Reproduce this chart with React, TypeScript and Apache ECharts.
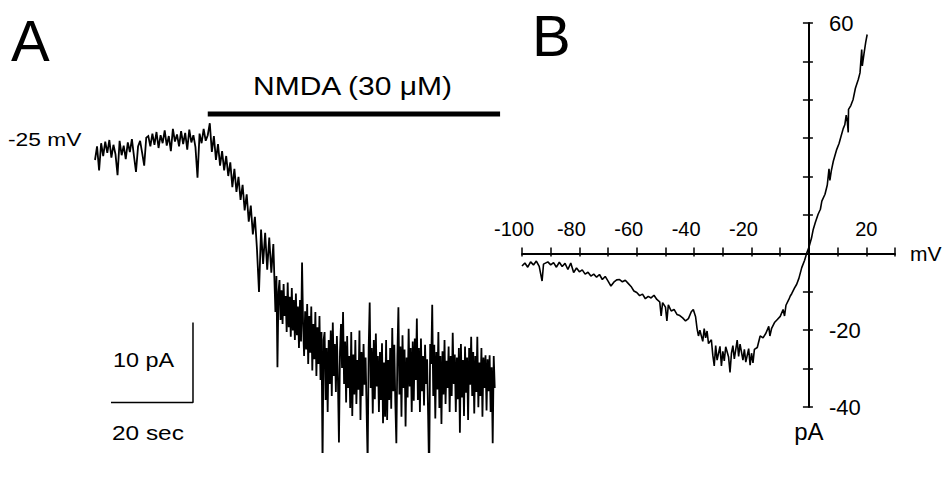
import React, { useEffect, useRef } from "react";
import * as echarts from "echarts";

const FONT = "'Liberation Sans', Arial, Helvetica, sans-serif";

// ---------- Panel A : current trace (pA) ----------
// baseline before NMDA, sampled every 0.5 s from t = 0 s
const tracePreStartSec = 0;
const tracePreStepSec = 0.5;
const tracePre1 = [-1.5, 0.2, -2.8, 0.6, -1.0, 0.8, -0.6, 1.0, -1.2, 0.4, -0.8, -3.4, 0.9, -0.9, 0.3, -1.4, 0.7, -0.5, 1.1, -1.0, -3.0, 0.2, 0.9, -0.6, -2.2, 1.3, 1.5];
const tracePre2 = [0.2, 1.8, 0.4, 2.0, 0.0, 1.6, 0.6, 2.2, 0.3, 1.5, -0.4, 2.4, 0.8, 1.7, 0.2, 2.1, 0.5, 1.9, -0.2, 2.3, 0.7, 1.6, 0.1, -3.7, 1.8, 0.6, 2.4, 0.9];
// onset of the NMDA current, every 0.5 s from t = 27.5 s
const traceOnsetStartSec = 27.5;
const traceOnsetStepSec = 0.5;
const traceOnset = [1.6, 3.1, -0.5, 1.5, -1.5, 0.5, -2.2, -0.4, -2.8, -1.0, -3.5, -1.8, -4.9, -2.6, -5.5, -3.6, -6.5, -4.6, -7.8, -5.8, -9.2, -7.2, -10.8, -8.6, -12.6, -18.0, -10.2, -14.5, -10.6, -15.2, -11.2, -15.6, -12.0];
// late rise, every 0.25 s from t = 44 s
const traceRiseStartSec = 44;
const traceRiseStepSec = 0.25;
const traceRise = [
  -20.5, -16.0, -27.4, -18.0, -16.5, -21.5, -17.8, -22.0, -17.0, -21.0, -18.5, -23.0, -16.8, -22.4, -18.6, -23.6,
  -17.5, -22.8, -19.0, -24.0, -18.2, -23.4, -19.8, -25.0, -19.0, -24.2, -14.3, -22.0, -26.0, -20.4, -25.2, -19.5,
  -27.0, -21.0, -25.6, -19.8, -27.8, -22.0, -26.4, -20.5, -28.5, -22.4, -27.0, -21.0, -29.0, -23.0, -39.6, -24.0,
];
// steady-state NMDA current, every 0.25 s from t = 56 s
const traceSteadyStartSec = 56;
const traceSteadyStepSec = 0.25;
const traceSteady = [
  -23.0, -31.5, -25.0, -33.0, -24.0, -29.5, -22.8, -31.0, -21.8, -28.5, -24.5, -30.5, -23.5, -29.0, -36.8, -25.5,
  -22.0, -27.5, -20.5, -29.5, -24.2, -31.8, -23.5, -30.0, -26.0, -32.5, -23.0, -33.5, -25.8, -30.8, -24.0, -32.0,
  -26.5, -30.2, -22.8, -34.0, -25.5, -31.0, -24.5, -29.6, -26.2, -32.8, -39.3, -25.0, -19.3, -30.0, -25.0, -33.2,
  -24.0, -31.4, -23.2, -29.8, -26.0, -33.0, -25.5, -31.5, -24.4, -34.4, -26.8, -33.6, -24.0, -34.0, -26.5, -31.5,
  -25.0, -32.6, -22.5, -30.4, -24.6, -31.8, -36.9, -26.0, -19.9, -30.8, -24.8, -33.6, -23.4, -30.0, -25.2, -34.8,
  -26.2, -31.2, -22.6, -29.8, -25.0, -33.0, -24.2, -31.6, -23.8, -29.0, -21.3, -31.5, -25.0, -33.0, -23.8, -30.4,
  -26.0, -32.2, -24.6, -29.5, -26.4, -33.4, -41.1, -24.5, -27.0, -19.6, -31.0, -24.6, -33.8, -25.5, -30.2, -23.0,
  -32.5, -26.0, -34.5, -25.4, -30.8, -24.0, -32.0, -26.6, -30.0, -24.8, -33.0, -26.0, -31.0, -23.1, -29.5, -25.8,
  -33.0, -26.2, -31.4, -25.0, -35.6, -24.5, -31.2, -26.5, -33.5, -24.8, -30.6, -26.2, -34.0, -25.0, -29.6, -23.6,
  -31.0, -25.5, -33.2, -26.0, -30.5, -23.6, -32.4, -26.8, -31.0, -25.0, -33.6, -26.2, -30.0, -25.9, -32.8, -26.4,
  -30.4, -25.9, -33.0, -27.4, -36.9, -26.0, -30.0,
];

// NMDA application bar (s) and its level (pA, above the trace)
const nmdaStartSec = 27.5;
const nmdaEndSec = 98.8;
const nmdaLevel = 4.25;
// scale bars: 20 sec, 10 pA
const scaleBarSec = [3.9, 23.9];
const scaleBarPA = [-31.8, -21.8];

// ---------- Panel B : I-V curve ----------
const ivVoltage = [-100, -99, -98, -97, -96, -95, -94, -93, -92.5, -91, -90, -89, -88, -87, -86, -85, -84, -83, -82, -81, -80, -79, -78, -77, -76, -75, -74, -73, -72, -71, -70, -69, -68, -67, -66, -65, -64, -63, -62, -61, -60, -59, -58, -57, -56, -55, -54, -53, -52, -51.5, -51, -50, -49.5, -49, -48, -47, -46, -45, -44, -43, -42, -41, -40.3, -39.5, -39, -38.5, -38, -37, -36.5, -36, -35.5, -35, -34, -33.5, -33, -32.5, -32, -31, -30.5, -30, -29.5, -29, -28, -27.5, -27, -26.5, -26, -25, -24.5, -24, -23, -22.5, -22, -21, -20.5, -20, -19.5, -19, -18, -17, -16, -15, -14, -13.6, -13, -12, -11, -10, -9, -8.5, -8, -7, -6.5, -6, -5, -4.3, -3.5, -2.5, -1.5, -0.8, 0, 0.9, 1.5, 2.2, 3.2, 4, 4.5, 5.6, 6.4, 7.0, 7.3, 7.8, 8.5, 9.7, 10.5, 11.2, 11.95, 12.5, 13.0, 13.4, 13.7, 13.8, 14.6, 15.4, 16.2, 17.2, 17.8, 18.4, 18.6, 19.2, 19.8, 20.3];
const ivCurrent = [-3.3, -2.5, -3.6, -2.2, -3.0, -2.0, -3.4, -7.2, -2.8, -2.2, -3.0, -2.4, -3.6, -2.3, -3.4, -2.6, -4.2, -2.5, -5.0, -3.8, -4.8, -4.3, -5.4, -4.9, -5.9, -5.4, -6.2, -5.5, -6.8, -6.0, -7.2, -8.5, -7.5, -6.9, -6.8, -7.4, -7.0, -7.8, -8.6, -9.8, -10.2, -11.0, -10.6, -11.8, -11.2, -11.6, -10.9, -12.0, -12.6, -16.3, -12.8, -14.0, -17.6, -13.4, -15.0, -14.6, -15.9, -16.2, -16.8, -17.6, -17.0, -15.2, -14.6, -16.5, -19.5, -21.5, -20.0, -22.9, -19.6, -22.0, -20.2, -23.5, -22.5, -26.5, -29.3, -24.0, -27.8, -24.2, -29.3, -25.5, -28.0, -24.3, -27.0, -31.0, -26.0, -24.0, -27.5, -22.6, -26.8, -23.6, -27.8, -25.0, -28.3, -24.8, -29.1, -26.0, -28.5, -25.0, -24.5, -21.5, -22.0, -20.8, -19.0, -21.5, -19.5, -18.0, -17.2, -16.4, -14.6, -16.3, -13.5, -12.0, -11.1, -10.5, -9.0, -8.1, -6.5, -3.7, -1.8, 0.0, 1.6, 4.0, 6.25, 8.0, 10.2, 11.5, 13.6, 15.4, 17.8, 22.0, 19.0, 21.5, 24.0, 27.1, 28.6, 30.5, 32.5, 33.5, 36.0, 34.2, 31.5, 37.5, 38.5, 40.1, 43.0, 45.3, 47.0, 53.1, 48.8, 52.0, 55.0, 57.0];

const ivVoltRange = [-100, 30];
const ivCurrRange = [-40, 60];
const xTickLabelsB = [-100, -80, -60, -40, -20, 20];
const yTickLabelsB = [60, -20, -40];

export default function App() {
  const ref = useRef<HTMLDivElement>(null);

  useEffect(() => {
    if (!ref.current) return;
    const chart = echarts.init(ref.current, undefined, { renderer: "svg" });

    const seg = (start: number, step: number, values: number[]) =>
      values.map((v, i) => [start + i * step, v]);
    const traceData = [
      ...seg(tracePreStartSec, tracePreStepSec, [...tracePre1, ...tracePre2]),
      ...seg(traceOnsetStartSec, traceOnsetStepSec, traceOnset),
      ...seg(traceRiseStartSec, traceRiseStepSec, traceRise),
      ...seg(traceSteadyStartSec, traceSteadyStepSec, traceSteady),
    ];
    const ivData = ivVoltage.map((v, i) => [v, ivCurrent[i]]);

    const black = "#000";
    const txt = (text: string, x: number, y: number, size: number, scaleX = 1) => ({
      type: "text",
      x,
      y,
      scaleX,
      silent: true,
      style: {
        text,
        fill: black,
        fontFamily: FONT,
        fontSize: size,
        align: "left",
        verticalAlign: "middle",
      },
    });

    // panel B geometry
    const bLeft = 522;
    const bTop = 23;
    const bWidth = 373;
    const bHeight = 384;
    const zeroX = bLeft + (bWidth * (0 - ivVoltRange[0])) / (ivVoltRange[1] - ivVoltRange[0]);
    const zeroYH = (bHeight * (ivCurrRange[1] - 0)) / (ivCurrRange[1] - ivCurrRange[0]);

    const hidden = (gridIndex: number, min: number, max: number) => ({
      gridIndex,
      type: "value",
      min,
      max,
      show: false,
    });

    const option: any = {
      animation: false,
      backgroundColor: "#fff",
      grid: [
        { left: 95, top: 100, width: 410, height: 352 },
        { left: bLeft, top: bTop, width: bWidth, height: bHeight },
        { left: bLeft, top: bTop, width: bWidth, height: zeroYH },
        { left: zeroX, top: bTop, width: bLeft + bWidth - zeroX, height: bHeight },
      ],
      xAxis: [
        hidden(0, 0, 100),
        hidden(1, ivVoltRange[0], ivVoltRange[1]),
        {
          gridIndex: 2,
          type: "value",
          min: ivVoltRange[0],
          max: ivVoltRange[1],
          interval: 10,
          position: "bottom",
          axisLine: { onZero: false, lineStyle: { color: black, width: 2 } },
          axisTick: { show: true, inside: true, length: 6, lineStyle: { color: black, width: 1.5 } },
          axisLabel: {
            inside: true,
            margin: 14,
            color: black,
            fontFamily: FONT,
            fontSize: 20,
            showMinLabel: true,
            showMaxLabel: true,
            formatter: (v: number) =>
              xTickLabelsB.includes(v) ? (v < 0 ? `{n|${v}}` : `{p|${v}}`) : "",
            rich: {
              n: { fontFamily: FONT, fontSize: 20, color: black, padding: [0, 16, 0, 0] },
              p: { fontFamily: FONT, fontSize: 20, color: black },
            },
          },
          splitLine: { show: false },
          name: "mV",
          nameLocation: "end",
          nameGap: 15,
          nameTextStyle: { fontFamily: FONT, fontSize: 21, color: black, padding: [0, 0, 10, 0] },
        },
        {
          gridIndex: 2,
          type: "value",
          min: ivVoltRange[0],
          max: ivVoltRange[1],
          interval: 10,
          position: "bottom",
          axisLine: { show: false, onZero: false },
          axisTick: { show: true, inside: false, length: 3, lineStyle: { color: black, width: 1.5 } },
          axisLabel: { show: false },
          splitLine: { show: false },
        },
        hidden(3, 0, 1),
      ],
      yAxis: [
        hidden(0, -38, 6),
        hidden(1, ivCurrRange[0], ivCurrRange[1]),
        hidden(2, 0, 1),
        {
          gridIndex: 3,
          type: "value",
          min: ivCurrRange[0],
          max: ivCurrRange[1],
          interval: 10,
          position: "left",
          axisLine: { onZero: false, lineStyle: { color: black, width: 2 } },
          axisTick: { show: true, inside: false, length: 6, lineStyle: { color: black, width: 1.5 } },
          axisLabel: {
            inside: true,
            margin: 20,
            color: black,
            fontFamily: FONT,
            fontSize: 22,
            showMinLabel: true,
            showMaxLabel: true,
            formatter: (v: number) => (yTickLabelsB.includes(v) ? String(v) : ""),
          },
          splitLine: { show: false },
          name: "pA",
          nameLocation: "start",
          nameGap: 12,
          nameTextStyle: { fontFamily: FONT, fontSize: 24, color: black },
        },
        {
          gridIndex: 3,
          type: "value",
          min: ivCurrRange[0],
          max: ivCurrRange[1],
          interval: 10,
          position: "left",
          axisLine: { show: false, onZero: false },
          axisTick: { show: true, inside: true, length: 4, lineStyle: { color: black, width: 1.5 } },
          axisLabel: { show: false },
          splitLine: { show: false },
        },
      ],
      series: [
        {
          type: "line",
          xAxisIndex: 0,
          yAxisIndex: 0,
          data: traceData,
          showSymbol: false,
          symbol: "none",
          lineStyle: { color: black, width: 1.8, join: "miter", miterLimit: 2 },
          silent: true,
        },
        {
          type: "line",
          xAxisIndex: 0,
          yAxisIndex: 0,
          data: [
            [nmdaStartSec, nmdaLevel],
            [nmdaEndSec, nmdaLevel],
          ],
          symbol: "none",
          lineStyle: { color: black, width: 5 },
          silent: true,
        },
        {
          type: "line",
          xAxisIndex: 0,
          yAxisIndex: 0,
          data: [
            [scaleBarSec[0], scaleBarPA[0]],
            [scaleBarSec[1], scaleBarPA[0]],
            [scaleBarSec[1], scaleBarPA[1]],
          ],
          symbol: "none",
          lineStyle: { color: black, width: 1.5 },
          silent: true,
        },
        {
          type: "line",
          xAxisIndex: 1,
          yAxisIndex: 1,
          data: ivData,
          symbol: "none",
          lineStyle: { color: black, width: 1.6 },
          silent: true,
        },
      ],
      graphic: [
        txt("A", 11, 40, 58),
        txt("B", 532, 35, 58),
        txt("NMDA (30 μM)", 253, 86, 25, 1.2),
        txt("-25 mV", 8, 139.5, 19, 1.2),
        txt("10 pA", 113, 360.5, 20, 1.17),
        txt("20 sec", 112, 433.5, 20, 1.22),
      ],
    };

    chart.setOption(option);
    return () => chart.dispose();
  }, []);

  return (
    <div
      ref={ref}
      style={{ position: "fixed", left: 0, top: 0, width: 944, height: 477, background: "#fff" }}
    />
  );
}
